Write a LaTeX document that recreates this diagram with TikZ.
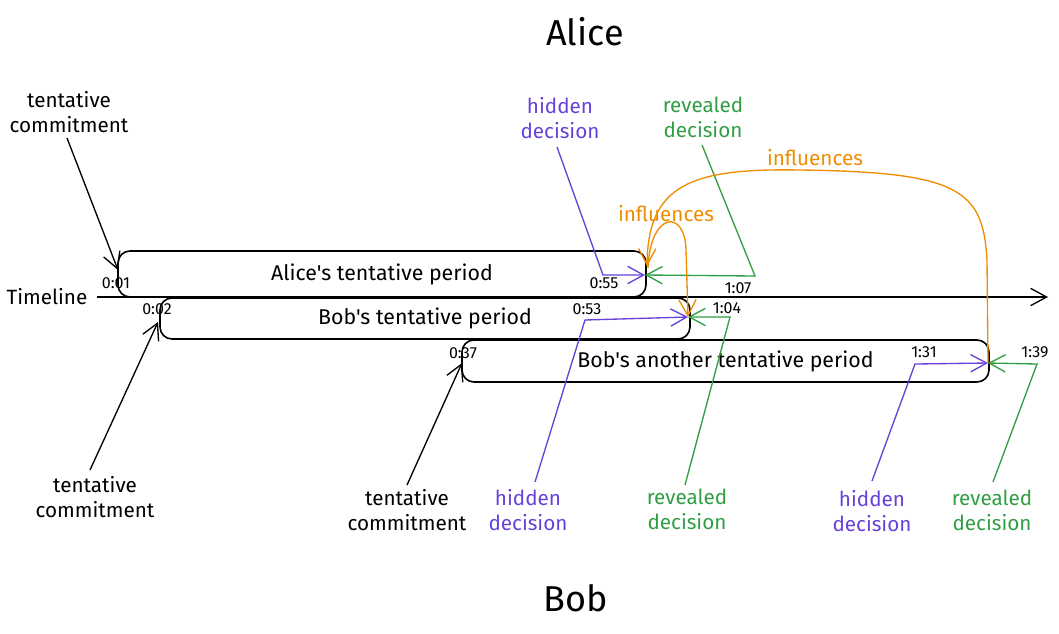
\documentclass[tikz,border=0pt]{standalone}
\usepackage{fontspec}
\setmainfont{Fira Sans}[Ligatures=TeXOff]
\usetikzlibrary{arrows.meta}
\definecolor{vio}{HTML}{6741D9}
\definecolor{grn}{HTML}{2F9E44}
\definecolor{org}{HTML}{F08C00}
\tikzset{
  lbl/.style={align=center, font=\fontsize{15.5}{18.75}\selectfont, inner sep=0pt},
  tlbl/.style={font=\fontsize{12}{13}\selectfont, inner sep=0pt},
  period/.style={draw, line width=1.2pt, rounded corners=9pt, font=\fontsize{16}{19}\selectfont},
  conn/.style={line width=1pt, -{Straight Barb[length=12pt,width=13pt,line width=1pt]}},
}
\begin{document}
\begin{tikzpicture}[x=0.75pt,y=-0.75pt]
\useasboundingbox (0,0) rectangle (1059,633);
% titles
\node[font=\fontsize{27}{30}\selectfont] (alice) at (585,32) {Alice};
\node[font=\fontsize{27}{30}\selectfont] (bob) at (576,598) {Bob};
% timeline
\node[lbl] (tl) at (47,297) {Timeline};
\coordinate (tlend) at (1048,297);
\draw[conn, line width=1.3pt] (tl.east) ++(7pt,0) -- (tlend);
% boxes
\node[period, minimum width=396pt, minimum height=34.5pt] (abox) at (382,274) {Alice's tentative period};
\node[period, minimum width=397.5pt, minimum height=30.75pt] (bbox) at (425,318.5) {Bob's tentative period};
\node[period, minimum width=395.25pt, minimum height=31.5pt] (cbox) at (725.5,361) {Bob's another tentative period};
% time labels
\node[tlbl] (t001) at (116,283) {0:01};
\node[tlbl] (t002) at (157,309) {0:02};
\node[tlbl] (t055) at (604,283) {0:55};
\node[tlbl] (t053) at (587,309) {0:53};
\node[tlbl] (t107) at (738,288) {1:07};
\node[tlbl] (t104) at (727,308) {1:04};
\node[tlbl] (t037) at (463,353) {0:37};
\node[tlbl] (t131) at (924,352) {1:31};
\node[tlbl] (t139) at (1035,352) {1:39};
% commitment labels
\node[lbl] (tc1) at (69,112) {tentative\\commitment};
\node[lbl] (tc2) at (95,497) {tentative\\commitment};
\node[lbl] (tc3) at (407,510) {tentative\\commitment};
\coordinate (tc1s) at (67,138);
\coordinate (tc1e) at (118,270);
\coordinate (tc2s) at (90,470);
\coordinate (tc2e) at (158,322);
\coordinate (tc3s) at (407,485);
\coordinate (tc3e) at (462,363);
\draw[conn] (tc1s) -- (tc1e);
\draw[conn] (tc2s) -- (tc2e);
\draw[conn] (tc3s) -- (tc3e);
% decision labels
\node[lbl, text=vio] (hd1) at (560,118) {hidden\\decision};
\node[lbl, text=grn] (rd1) at (703,117) {revealed\\decision};
\node[lbl, text=vio] (hd2) at (528,510) {hidden\\decision};
\node[lbl, text=grn] (rd2) at (687,509) {revealed\\decision};
\node[lbl, text=vio] (hd3) at (872,511) {hidden\\decision};
\node[lbl, text=grn] (rd3) at (992,510) {revealed\\decision};
% end points
\coordinate (aend) at (645,275);
\coordinate (bend) at (688,317);
\coordinate (cend) at (988,363);
\coordinate (hd1s) at (557,147);
\coordinate (rd1s) at (702,145);
\coordinate (hd2s) at (535,482);
\coordinate (rd2s) at (685,485);
\coordinate (hd3s) at (872,481);
\coordinate (rd3s) at (993,482);
\draw[conn, vio] (hd1s) -- (603,275) -- (aend);
\draw[conn, grn] (rd1s) -- (755,276) -- (aend);
\draw[conn, vio] (hd2s) -- (585,320) -- (bend);
\draw[conn, grn] (rd2s) -- (730,317) -- (bend);
\draw[conn, vio] (hd3s) -- (915,364) -- (cend);
\draw[conn, grn] (rd3s) -- (1037,364) -- (cend);
% influences
\coordinate (astart) at (648,268);
\coordinate (aend2) at (647,266);
\draw[conn, org] (cend) -- (987,260) .. controls (983,190) and (960,172) .. (800,170) .. controls (690,168) and (648,185) .. (aend2);
\draw[conn, org] (astart) .. controls (650,212) and (685,208) .. (686,250) -- (bend);
\node[lbl, text=org] (inf1) at (666,214) {influences};
\node[lbl, text=org] (inf2) at (815,158) {influences};
\end{tikzpicture}
\end{document}
